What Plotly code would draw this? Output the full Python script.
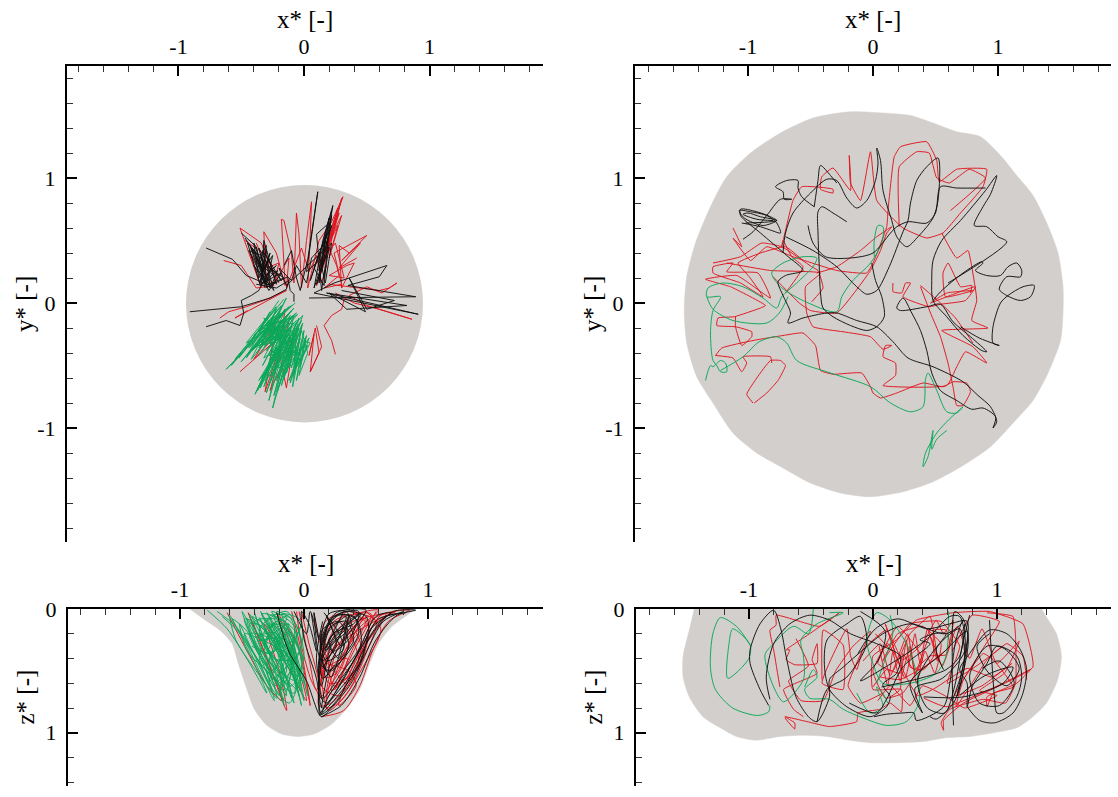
import plotly.graph_objects as go

FILL = "#d2cfcc"
RED = "#e0141e"
BLACK = "#111111"
GREEN = "#0aa858"

# ---- gray regions ----
P1_CIRCLE = (-0.94, -0.955, 0.948, 0.945)
P2_OUTLINE = [(-0.18,1.53),(0.08,1.52),(0.30,1.50),(0.48,1.44),(0.67,1.37),(0.86,1.33),(1.02,1.18),(1.15,1.02),(1.28,0.86),(1.39,0.64),(1.48,0.40),(1.52,0.13),(1.52,-0.08),(1.50,-0.30),(1.40,-0.56),(1.28,-0.78),(1.12,-0.96),(0.94,-1.15),(0.72,-1.30),(0.48,-1.43),(0.24,-1.51),(-0.02,-1.55),(-0.26,-1.52),(-0.50,-1.44),(-0.72,-1.32),(-0.93,-1.20),(-1.12,-1.04),(-1.28,-0.80),(-1.41,-0.59),(-1.49,-0.32),(-1.51,-0.06),(-1.49,0.21),(-1.42,0.48),(-1.30,0.77),(-1.17,1.01),(-0.98,1.20),(-0.74,1.36),(-0.48,1.48),(-0.18,1.53)]
P3_OUTLINE = [(-0.92,0.0),(-0.81,0.08),(-0.68,0.17),(-0.58,0.28),(-0.53,0.44),(-0.46,0.65),(-0.40,0.81),(-0.30,0.94),(-0.18,1.01),(-0.05,1.03),(0.08,1.01),(0.21,0.94),(0.34,0.81),(0.45,0.65),(0.53,0.44),(0.60,0.28),(0.71,0.14),(0.83,0.05),(0.90,0.0)]
P4_OUTLINE = [(-1.44,0),(-1.48,0.17),(-1.53,0.38),(-1.53,0.55),(-1.48,0.71),(-1.37,0.87),(-1.23,0.96),(-1.10,1.03),(-0.94,1.06),(-0.75,1.03),(-0.56,1.02),(-0.37,1.03),(-0.19,1.06),(-0.02,1.08),(0.19,1.08),(0.41,1.07),(0.59,1.04),(0.78,1.03),(0.97,1.00),(1.16,0.96),(1.29,0.87),(1.40,0.76),(1.49,0.57),(1.52,0.38),(1.48,0.20),(1.39,0.05),(1.36,0)]

# ---- panel 1: x*, y* (small droplet) ----
P1_RED = [
 [(-0.64,0.34),(-0.50,0.30),(-0.38,0.12),(-0.24,0.14),(-0.43,0.40),(-0.34,0.12),(-0.51,0.60),(-0.34,0.48),(-0.28,0.32),(-0.30,0.12),(-0.32,0.57),(-0.22,0.40),(-0.15,0.14),(-0.18,0.67),(-0.16,0.66),(-0.10,0.40),(-0.08,0.16),(-0.06,0.72),(-0.04,0.55),(-0.02,0.12),(0.02,0.50),(0.06,0.81),(0.05,0.55),(0.03,0.12),(0.12,0.50),(0.22,0.65),(0.31,0.85),(0.26,0.70),(0.10,0.14),(0.20,0.42),(0.29,0.80),(0.22,0.55),(0.12,0.20),(0.28,0.72),(0.18,0.48),(0.26,0.30),(0.28,0.22),(0.16,0.12),(0.30,0.15),(0.24,0.40),(0.50,0.54),(0.30,0.34),(0.45,0.48),(0.28,0.28),(0.42,0.36)],
 [(0.20,0.15),(0.42,0.12),(0.60,0.10),(0.68,0.12),(0.74,0.16),(0.62,0.08),(0.50,0.13),(0.36,0.06),(0.50,-0.02),(0.86,-0.13),(0.60,-0.05),(0.40,0.00),(0.25,0.08)],
 [(-0.67,-0.12),(-0.60,-0.07),(-0.46,-0.03),(-0.32,0.02),(-0.14,0.10),(-0.55,-0.12),(-0.45,-0.06)],
 [(0.10,-0.18),(0.14,-0.35),(0.05,-0.55),(0.12,-0.40),(0.09,-0.20),(0.04,-0.42),(0.08,-0.25),(0.05,-0.55)],
 [(0.25,-0.41),(0.22,-0.30),(0.16,-0.18),(0.22,-0.10),(0.30,-0.05),(0.32,0.03)],
 [(-0.51,-0.55),(-0.25,-0.32),(-0.31,-0.71),(-0.20,-0.38),(-0.14,-0.68),(-0.08,-0.30),(-0.27,-0.70),(-0.12,-0.15),(-0.40,-0.45),(-0.15,-0.05),(-0.22,-0.50),(-0.05,-0.20)],
 [(-0.38,0.48),(-0.30,0.28),(-0.20,0.32),(-0.24,0.15),(-0.12,0.36),(-0.14,0.12),(-0.02,0.44),(0.04,0.25),(0.10,0.38),(0.14,0.16),(0.18,0.30)],
 [(0.30,0.84),(0.24,0.62),(0.14,0.30),(0.27,0.76),(0.16,0.42),(0.30,0.70),(0.20,0.36),(0.27,0.62),(0.12,0.32),(0.25,0.48),(0.32,0.20),(0.20,0.22),(0.34,0.30),(0.40,0.32),(0.30,0.12),(0.28,0.46),(0.36,0.40)],
 [(-0.47,0.50),(-0.30,0.38),(-0.20,0.16)],
]
P1_BLACK = [
 [(-0.91,-0.07),(-0.72,-0.05),(-0.50,-0.03),(-0.27,0.04),(-0.14,0.11),(-0.12,0.18),(-0.22,0.12),(-0.38,0.15)],
 [(-0.78,-0.19),(-0.62,-0.14),(-0.51,-0.18),(-0.48,-0.08),(-0.50,0.02),(-0.42,0.06),(-0.36,0.10),(-0.33,0.16)],
 [(-0.78,0.44),(-0.57,0.35),(-0.46,0.22),(-0.27,0.14),(-0.13,0.21),(-0.11,0.10),(-0.08,0.07),(-0.08,0.01)],
 [(-0.50,0.56),(-0.38,0.45),(-0.32,0.20),(-0.38,0.40),(-0.45,0.48),(-0.35,0.15),(-0.30,0.43),(-0.27,0.12),(-0.40,0.48),(-0.36,0.20),(-0.28,0.35),(-0.22,0.15),(-0.32,0.50),(-0.34,0.14),(-0.26,0.28),(-0.18,0.18),(-0.33,0.42),(-0.24,0.10),(-0.40,0.30),(-0.30,0.14),(-0.16,0.20),(-0.30,0.30),(-0.43,0.46),(-0.37,0.28),(-0.33,0.36),(-0.29,0.18),(-0.25,0.38),(-0.34,0.24),(-0.31,0.12)],
 [(-0.16,0.30),(-0.10,0.42),(-0.06,0.20),(-0.03,0.10),(0.03,0.35),(0.11,0.89),(0.07,0.60),(0.02,0.25),(0.12,0.34),(0.20,0.60),(0.23,0.78),(0.15,0.50),(0.08,0.12),(0.16,0.36),(0.22,0.70),(0.18,0.40),(0.10,0.15),(0.20,0.45),(0.16,0.20),(0.12,0.40),(0.05,0.18),(0.21,0.65),(0.10,0.55),(0.14,0.10),(0.17,0.30)],
 [(0.04,0.04),(0.89,0.05),(0.35,0.14),(0.60,0.21),(0.66,0.30),(0.24,0.16),(0.08,0.08),(0.91,-0.09),(0.18,0.08),(0.82,-0.02),(0.34,-0.05),(0.20,0.08),(0.49,-0.07),(0.36,0.20),(0.50,-0.05),(0.72,0.02),(0.30,0.10)],
 [(-0.47,0.52),(-0.39,0.40),(-0.33,0.22),(-0.30,0.46),(-0.36,0.34),(-0.29,0.12),(-0.42,0.44),(-0.34,0.30),(-0.24,0.22),(-0.36,0.44),(-0.31,0.26),(-0.27,0.40),(-0.35,0.18),(-0.22,0.30),(-0.30,0.22),(-0.38,0.36),(-0.26,0.14),(-0.21,0.26),(-0.33,0.16),(-0.18,0.24),(-0.28,0.10),(-0.44,0.42),(-0.34,0.38),(-0.30,0.16)],
 [(0.22,0.74),(0.17,0.52),(0.12,0.16),(0.20,0.68),(0.14,0.44),(0.22,0.62),(0.12,0.26),(0.18,0.56),(0.08,0.28),(0.16,0.14),(0.19,0.50),(0.06,0.36),(0.02,0.16),(-0.06,0.30),(-0.10,0.18),(-0.20,0.28),(-0.14,0.14),(0.22,0.48),(0.17,0.16)],
]
P1_GREEN = [
 [(-0.07,0.0),(-0.32,-0.22),(-0.62,-0.53),(-0.40,-0.30),(-0.18,-0.08),(-0.45,-0.42),(-0.25,-0.15),(-0.50,-0.47),(-0.15,-0.05),(-0.36,-0.36),(-0.10,-0.06),(-0.42,-0.45),(-0.22,-0.05),(-0.34,-0.33),(-0.14,0.04),(-0.28,-0.25),(-0.05,-0.09),(-0.30,-0.38),(-0.12,-0.15),(-0.39,-0.73),(-0.22,-0.35),(-0.32,-0.67),(-0.12,-0.20),(-0.37,-0.70),(-0.08,-0.10),(-0.25,-0.84),(-0.15,-0.50),(-0.05,-0.18),(-0.20,-0.60),(-0.28,-0.48),(-0.10,-0.22),(-0.34,-0.60),(-0.02,-0.14),(-0.16,-0.45),(-0.24,-0.55),(-0.06,-0.25),(-0.09,-0.67),(-0.02,-0.30),(0.05,-0.32),(-0.05,-0.50),(-0.12,-0.62),(0.02,-0.26),(-0.04,-0.58),(0.03,-0.40),(-0.02,-0.22),(-0.10,-0.52),(-0.14,-0.32),(-0.30,-0.12),(-0.46,-0.32),(-0.18,-0.14),(-0.38,-0.40),(-0.12,-0.08),(-0.24,-0.32),(-0.06,-0.14),(-0.20,-0.30),(-0.30,-0.28),(-0.12,-0.26),(-0.22,-0.20),(-0.08,-0.34),(-0.19,-0.44),(-0.03,-0.24),(-0.26,-0.40),(-0.15,-0.20),(-0.33,-0.30),(-0.18,-0.03),(-0.24,-0.22)],
 [(-0.20,0.02),(-0.42,-0.30),(-0.55,-0.45),(-0.36,-0.22),(-0.22,-0.03),(-0.48,-0.38),(-0.28,-0.12),(-0.52,-0.44),(-0.18,-0.02),(-0.38,-0.28),(-0.12,-0.03),(-0.44,-0.36),(-0.24,-0.12),(-0.40,-0.26),(-0.10,-0.02),(-0.34,-0.28),(-0.06,-0.08),(-0.30,-0.30),(-0.14,-0.10),(-0.36,-0.42),(-0.20,-0.18),(-0.30,-0.56),(-0.12,-0.24),(-0.34,-0.64),(-0.16,-0.30),(-0.30,-0.72),(-0.20,-0.40),(-0.36,-0.62),(-0.10,-0.18),(-0.28,-0.66),(-0.06,-0.16),(-0.24,-0.74),(-0.16,-0.42),(-0.22,-0.62),(-0.04,-0.20),(-0.18,-0.66),(-0.08,-0.24),(-0.14,-0.56),(-0.02,-0.18),(-0.08,-0.58),(0.00,-0.22),(-0.06,-0.62),(0.01,-0.28),(-0.03,-0.50),(0.04,-0.28),(-0.08,-0.46),(-0.01,-0.16),(-0.12,-0.46),(-0.04,-0.12),(-0.16,-0.36),(-0.26,-0.16),(-0.10,-0.12),(-0.28,-0.36),(-0.14,-0.22),(-0.34,-0.20),(-0.20,-0.08),(-0.30,-0.18),(-0.14,-0.14),(-0.26,-0.26),(-0.12,-0.34),(-0.22,-0.24),(-0.06,-0.30),(-0.18,-0.38),(-0.04,-0.40),(-0.24,-0.46),(-0.10,-0.28),(-0.32,-0.44),(-0.18,-0.16),(-0.40,-0.36),(-0.24,-0.28),(-0.32,-0.12),(-0.16,-0.26),(-0.36,-0.32)],
 [(-0.16,0.03),(-0.38,-0.24),(-0.58,-0.50),(-0.43,-0.33),(-0.27,-0.07),(-0.46,-0.44),(-0.20,-0.10),(-0.41,-0.38),(-0.08,-0.04),(-0.32,-0.34),(-0.19,-0.24),(-0.33,-0.50),(-0.15,-0.16),(-0.35,-0.68),(-0.18,-0.34),(-0.28,-0.78),(-0.20,-0.50),(-0.31,-0.62),(-0.11,-0.30),(-0.26,-0.58),(-0.07,-0.20),(-0.21,-0.70),(-0.10,-0.38),(-0.16,-0.60),(-0.03,-0.28),(-0.11,-0.64),(-0.02,-0.36),(-0.07,-0.52),(0.03,-0.34),(-0.13,-0.42),(-0.01,-0.10),(-0.17,-0.28),(-0.29,-0.22),(-0.09,-0.16),(-0.23,-0.42),(-0.11,-0.10),(-0.27,-0.32),(-0.16,-0.08),(-0.35,-0.25),(-0.21,-0.14),(-0.37,-0.34),(-0.14,-0.30),(-0.28,-0.42),(-0.07,-0.38),(-0.20,-0.52),(-0.02,-0.44),(-0.16,-0.54),(0.00,-0.34)],
]

# ---- panel 2: x*, y* (large droplet) ----
P2_RED = [
 [(-0.96,-0.80),(-1.01,-0.73),(-0.93,-0.60),(-0.82,-0.46),(-0.74,-0.46),(-0.70,-0.50),(-0.76,-0.62),(-0.85,-0.72),(-0.95,-0.80)],
 [(-1.26,-0.42),(-1.21,-0.36),(-0.96,-0.30),(-0.72,-0.26),(-0.56,-0.24),(-0.46,-0.34),(-0.42,-0.54),(-0.32,-0.57),(-0.09,-0.56),(-0.02,-0.67),(0.00,-0.72),(0.06,-0.76),(0.19,-0.72),(0.40,-0.64),(0.56,-0.67),(0.64,-0.63),(0.75,-0.64),(0.78,-0.71),(0.72,-0.82),(0.67,-0.82),(0.64,-0.67),(0.60,-0.48),(0.54,-0.27),(0.46,-0.08),(0.38,0.13)],
 [(-1.26,-0.42),(-1.12,-0.44),(-1.05,-0.55),(-1.01,-0.48),(-1.04,-0.43),(-0.82,-0.43),(-0.81,-0.48)],
 [(-1.10,-0.11),(-1.10,-0.19),(-1.05,-0.34),(-0.97,-0.27),(-0.97,-0.23),(-1.10,-0.19),(-1.25,-0.18),(-1.24,-0.12),(-1.11,-0.11),(-0.90,-0.04),(-0.86,-0.02),(-1.14,0.13),(-1.34,0.19),(-1.09,0.22),(-0.82,0.04),(-0.92,0.24),(-1.17,0.25),(-1.12,0.32),(-1.28,0.29),(-1.28,0.24),(-1.06,0.16),(-0.88,0.05),(-0.99,0.21),(-1.08,0.32),(-0.90,0.40),(-0.70,0.45),(-0.56,0.34)],
 [(-1.12,0.60),(-1.05,0.45),(-1.12,0.52),(-0.98,0.34),(-0.85,0.45),(-0.64,0.37),(-0.29,0.26),(-0.05,0.24),(0.00,0.32),(0.11,0.61),(0.12,0.74),(0.17,1.17),(0.22,1.25),(0.43,1.29),(0.51,1.14),(0.53,0.97),(0.67,1.07),(0.91,1.07),(0.88,0.93),(0.70,0.72),(0.56,0.56),(0.43,0.52),(0.24,0.60),(0.03,0.82),(-0.02,1.21),(-0.10,0.82),(-0.18,0.96),(-0.19,1.18),(-0.18,0.90),(-0.32,1.08),(-0.41,1.01),(-0.42,0.91),(-0.32,0.88),(-0.32,0.91),(-0.57,0.93),(-0.64,0.82),(-0.73,0.45),(-0.72,0.50),(-0.65,0.37),(-0.56,0.29),(-0.70,0.08)],
 [(0.21,0.61),(0.21,1.09),(0.35,1.21),(0.45,1.20),(0.51,1.00),(0.61,0.96),(0.77,1.07),(0.90,1.00),(0.62,0.74)],
 [(0.55,0.56),(0.67,0.36),(0.76,0.42),(0.79,0.29),(0.83,0.02),(0.79,-0.14),(0.92,-0.20),(0.55,-0.22),(0.80,-0.35),(0.91,-0.48),(0.74,-0.39),(0.67,-0.51),(0.59,-0.66),(0.08,-0.66),(0.18,-0.58),(0.18,-0.48),(0.08,-0.43),(0.10,-0.34),(0.15,-0.34),(0.08,-0.37),(-0.02,-0.27),(-0.24,-0.23),(-0.48,-0.19),(-0.53,-0.08),(-0.54,0.13),(-0.42,0.24),(-0.82,0.26),(-1.17,0.32)],
 [(0.16,0.16),(0.16,0.09),(0.23,0.08),(0.26,0.16),(0.30,0.16),(0.24,0.05),(0.45,-0.03),(0.54,-0.01),(0.74,0.02),(0.82,0.13),(0.59,0.05),(0.46,0.00),(0.59,0.08),(0.80,0.10),(0.58,0.05),(0.56,0.24),(0.60,0.32),(0.70,0.13),(0.79,0.14),(0.78,0.08)],
 [(0.38,0.14),(0.54,0.00),(0.66,-0.12),(0.80,-0.32)],
 [(-0.80,0.21),(-0.72,0.13),(-0.59,0.0),(-0.50,-0.06),(-0.29,-0.08),(-0.02,0.26),(0.06,0.42),(0.11,0.56),(0.15,0.61),(0.03,0.53),(-0.10,0.42),(-0.29,0.29),(-0.45,0.24)],
 [(-0.49,0.01),(-0.40,0.12),(-0.44,0.26),(-0.49,0.29),(-0.73,0.45),(-0.89,0.48),(-1.06,0.37),(-1.28,0.32)],
]
P2_BLACK = [
 [(0.96,-1.00),(0.99,-0.95),(0.94,-0.83),(0.84,-0.74),(0.72,-0.63),(0.48,-0.51),(0.28,-0.44),(0.16,-0.31),(0.03,-0.19),(-0.13,-0.14),(-0.29,-0.08),(-0.37,-0.08),(-0.56,-0.12),(-0.68,-0.16),(-0.66,-0.08),(-0.72,0.06),(-0.76,0.17),(-0.70,0.22),(-0.56,0.26),(-0.69,0.38),(-0.90,0.56),(-1.06,0.70),(-1.06,0.75),(-0.93,0.73),(-0.82,0.69),(-0.77,0.66),(-1.02,0.64)],
 [(0.96,-1.00),(0.98,-0.91),(0.88,-0.84),(0.79,-0.85),(0.67,-0.78),(0.54,-0.70),(0.47,-0.56),(0.43,-0.38),(0.38,-0.22),(0.31,-0.08),(0.24,0.04),(0.19,-0.04),(0.22,-0.06),(0.43,-0.03),(0.54,-0.01),(0.64,-0.15),(0.78,-0.27),(0.91,-0.39),(0.87,-0.38),(0.72,-0.26),(0.59,-0.11),(0.48,0.02),(0.47,0.18),(0.48,0.34),(0.55,0.50),(0.70,0.66),(0.90,0.90),(0.99,1.02),(0.94,0.87),(0.88,0.77),(0.81,0.62),(0.91,0.61),(1.00,0.53),(1.07,0.49),(0.60,0.16)],
 [(1.01,-0.34),(0.96,-0.32),(0.96,-0.19),(1.02,0.00),(1.08,0.06),(1.20,0.13),(1.29,0.14),(1.26,0.05),(1.18,0.02),(1.07,0.06),(1.01,0.11),(1.07,0.21),(1.18,0.21),(1.19,0.26),(1.15,0.32),(1.08,0.29),(1.02,0.22),(0.91,0.22),(0.82,0.26),(0.88,0.32),(0.87,0.33),(0.72,0.24),(0.54,0.09),(0.48,0.02)],
 [(1.01,-0.34),(0.85,-0.28),(0.70,-0.19)],
 [(-0.47,0.77),(-0.57,0.85),(-0.60,0.92),(-0.60,0.98),(-0.69,0.98),(-0.78,0.93),(-0.72,0.89),(-0.71,0.83),(-0.65,0.83),(-0.74,0.83),(-0.85,0.70),(-0.96,0.57),(-1.04,0.51)],
 [(-1.05,0.64),(-0.90,0.61),(-0.81,0.58),(-0.74,0.56),(-0.77,0.64),(-0.85,0.70),(-0.98,0.73),(-1.07,0.74),(-1.03,0.68),(-0.88,0.62),(-0.77,0.66),(-0.90,0.69),(-1.00,0.72),(-1.04,0.71),(-0.93,0.67),(-0.80,0.66)],
 [(-0.72,0.40),(-0.70,0.56),(-0.64,0.72),(-0.50,0.88),(-0.37,0.99),(-0.29,0.98),(-0.21,0.84),(-0.13,0.76),(-0.05,0.82),(0.02,0.98),(0.04,1.12),(0.03,1.24),(0.06,1.14),(0.08,0.90),(0.15,0.66),(0.19,0.53),(0.27,0.45),(0.36,0.53),(0.48,0.68),(0.52,0.82),(0.52,1.16),(0.43,1.09),(0.35,0.98),(0.30,0.80),(0.28,0.66),(0.24,0.57),(0.13,0.29),(0.03,0.10),(-0.05,0.07),(-0.13,0.13),(-0.29,0.29),(-0.48,0.42),(-0.70,0.53)],
 [(-0.52,0.62),(-0.48,0.48),(-0.38,0.37),(-0.18,0.36),(0.00,0.40),(0.14,0.56),(0.19,0.61),(0.28,0.65),(0.43,0.64),(0.50,0.72),(0.54,0.93),(0.67,0.92),(0.90,0.92)],
 [(-0.47,0.77),(-0.44,0.98),(-0.42,1.10),(-0.34,1.02),(-0.29,0.96)],
 [(-0.21,0.65),(-0.32,0.72),(-0.41,0.77),(-0.44,0.73),(-0.44,0.56),(-0.43,0.29),(-0.42,0.08),(-0.40,-0.04),(-0.32,-0.11),(-0.18,-0.18),(-0.05,-0.22),(0.03,-0.19),(0.09,-0.11),(0.07,0.05),(0.02,0.18),(-0.01,0.32)],
]
P2_GREEN = [
 [(-1.34,-0.62),(-1.30,-0.50),(-1.28,-0.51),(-1.22,-0.46),(-1.18,-0.48),(-1.17,-0.55),(-1.22,-0.55),(-1.25,-0.50),(-1.28,-0.46),(-1.30,-0.24),(-1.28,-0.06),(-1.22,0.05),(-1.33,0.05),(-1.32,0.12),(-1.20,0.16),(-1.04,0.13),(-0.88,0.04),(-0.77,-0.04),(-0.73,0.05),(-0.61,0.16),(-0.48,0.29),(-0.45,0.36),(-0.56,0.37),(-0.72,0.32),(-0.81,0.24),(-0.74,0.13),(-0.56,0.02),(-0.29,-0.07),(-0.25,0.05),(-0.17,0.17),(-0.02,0.32),(0.07,0.48),(0.08,0.61),(0.04,0.62),(0.01,0.50),(0.01,0.37)],
 [(-1.33,0.05),(-1.28,-0.05),(-1.12,-0.14),(-0.85,-0.16),(-0.75,-0.08),(-0.68,0.05)],
 [(-1.22,-0.54),(-1.04,-0.43),(-0.91,-0.31),(-0.77,-0.27),(-0.69,-0.32),(-0.61,-0.46),(-0.34,-0.56),(-0.02,-0.67),(0.14,-0.80),(0.30,-0.87),(0.40,-0.83),(0.42,-0.61),(0.44,-0.56),(0.51,-0.70),(0.59,-0.87),(0.67,-0.88),(0.72,-0.83),(0.61,-0.93),(0.51,-1.04),(0.42,-1.20),(0.40,-1.31),(0.44,-1.23),(0.48,-1.02),(0.47,-1.17),(0.51,-1.09),(0.59,-1.02)],
]

# ---- panel 3: x*, z* (small droplet) ----
P3_RED = [
 [(-0.62,0.03),(-0.48,0.30),(-0.30,0.62),(-0.18,0.74),(-0.30,0.40),(-0.45,0.03),(-0.32,0.35),(-0.14,0.82),(-0.20,0.50),(-0.32,0.12),(-0.14,0.45),(0.02,0.74),(-0.10,0.30),(-0.22,0.03),(-0.05,0.30),(0.05,0.78),(-0.02,0.35),(-0.10,0.02)],
 [(0.14,0.87),(0.32,0.82),(0.45,0.62),(0.56,0.32),(0.68,0.10),(0.85,0.01),(0.62,0.05),(0.50,0.25),(0.38,0.58),(0.22,0.76),(0.12,0.78),(0.18,0.48),(0.35,0.40),(0.25,0.65),(0.38,0.35),(0.50,0.08),(0.36,0.12),(0.22,0.35),(0.14,0.62),(0.28,0.70),(0.44,0.42),(0.30,0.10),(0.18,0.18),(0.16,0.55),(0.26,0.52),(0.42,0.18),(0.60,0.01),(0.40,0.05),(0.24,0.22),(0.10,0.65),(0.04,0.40),(-0.04,0.02)],
 [(0.08,0.03),(0.14,0.30),(0.34,0.60),(0.46,0.30),(0.30,0.04),(0.16,0.12),(0.20,0.60),(0.42,0.50),(0.52,0.14),(0.35,0.02),(0.18,0.30),(0.12,0.72),(0.30,0.48),(0.44,0.10),(0.70,0.03)],
 [(0.40,0.02),(0.58,0.10),(0.50,0.36),(0.36,0.66),(0.20,0.82),(0.14,0.50),(0.22,0.12),(0.32,0.06),(0.54,0.04),(0.42,0.30),(0.28,0.58),(0.18,0.72),(0.28,0.30),(0.46,0.16),(0.74,0.02),(0.55,0.14),(0.44,0.46),(0.24,0.62),(0.20,0.40),(0.34,0.22),(0.52,0.05)],
 [(-0.02,0.02),(0.04,0.28),(0.10,0.50),(0.14,0.72),(0.06,0.58),(-0.02,0.30),(-0.06,0.02)],
 [(0.50,0.02),(0.62,0.16),(0.48,0.46),(0.30,0.74),(0.18,0.80),(0.24,0.50),(0.40,0.24),(0.56,0.08),(0.66,0.04),(0.46,0.34),(0.34,0.56),(0.22,0.66),(0.32,0.36),(0.48,0.06),(0.30,0.26),(0.16,0.42),(0.36,0.50),(0.42,0.62),(0.28,0.78),(0.40,0.44),(0.58,0.02)],
]
P3_BLACK = [
 [(0.14,0.87),(0.30,0.78),(0.45,0.55),(0.58,0.25),(0.75,0.05),(0.90,0.01),(0.72,0.02),(0.55,0.20),(0.42,0.45),(0.28,0.72),(0.14,0.85),(0.12,0.60),(0.14,0.30),(0.22,0.08),(0.35,0.02),(0.50,0.06),(0.52,0.18),(0.40,0.42),(0.20,0.70),(0.13,0.86),(0.12,0.50),(0.16,0.20),(0.28,0.05),(0.42,0.08),(0.46,0.28),(0.30,0.52),(0.15,0.72),(0.12,0.40),(0.22,0.14),(0.34,0.10),(0.40,0.25),(0.25,0.45),(0.15,0.56),(0.14,0.24),(0.26,0.03),(0.50,0.01),(0.36,0.20),(0.22,0.42),(0.14,0.80)],
 [(-0.22,0.03),(-0.12,0.35),(0.02,0.58),(0.14,0.87),(0.22,0.80),(0.38,0.60),(0.50,0.35),(0.64,0.10),(0.80,0.02)],
 [(-0.08,0.02),(0.02,0.20),(0.05,0.02),(0.12,0.25),(0.08,0.03),(0.14,0.42),(0.26,0.30),(0.18,0.05),(0.30,0.30),(0.36,0.05),(0.22,0.55),(0.15,0.40),(0.35,0.16),(0.28,0.40),(0.20,0.25),(0.44,0.04),(0.26,0.22),(0.17,0.34),(0.32,0.02)],
 [(0.13,0.86),(0.24,0.74),(0.42,0.50),(0.52,0.24),(0.66,0.06),(0.82,0.03),(0.60,0.08),(0.48,0.28),(0.34,0.52),(0.18,0.76),(0.12,0.68),(0.15,0.36),(0.20,0.12),(0.30,0.03),(0.44,0.02),(0.38,0.22),(0.24,0.34),(0.16,0.26),(0.24,0.06),(0.40,0.06),(0.44,0.20),(0.30,0.42),(0.18,0.50),(0.13,0.30),(0.20,0.04),(0.34,0.02),(0.38,0.14),(0.22,0.30),(0.14,0.62),(0.10,0.40),(0.15,0.10)],
 [(0.16,0.03),(0.26,0.16),(0.32,0.32),(0.18,0.42),(0.14,0.18),(0.28,0.10),(0.36,0.30),(0.22,0.50),(0.13,0.44),(0.24,0.20),(0.40,0.12),(0.46,0.04),(0.30,0.16),(0.16,0.32),(0.20,0.18),(0.34,0.06),(0.26,0.28),(0.15,0.48)],
 [(0.13,0.84),(0.28,0.66),(0.46,0.42),(0.54,0.16),(0.70,0.03),(0.58,0.06),(0.44,0.34),(0.30,0.60),(0.15,0.80),(0.10,0.56),(0.00,0.24),(-0.02,0.02),(0.04,0.12),(0.10,0.34),(0.06,0.04)],
]
P3_GREEN = [
 [(-0.78,0.01),(-0.62,0.16),(-0.45,0.42),(-0.30,0.68),(-0.42,0.40),(-0.60,0.05),(-0.55,0.25),(-0.35,0.55),(-0.22,0.72),(-0.35,0.30),(-0.50,0.02),(-0.40,0.28),(-0.20,0.62),(-0.16,0.78),(-0.25,0.45),(-0.40,0.03),(-0.30,0.30),(-0.12,0.60),(-0.10,0.72),(-0.22,0.30),(-0.35,0.02),(-0.25,0.20),(-0.08,0.55),(-0.02,0.78),(-0.15,0.32),(-0.30,0.03),(-0.18,0.22),(-0.02,0.52),(0.03,0.70),(-0.10,0.25),(-0.22,0.02),(-0.08,0.10),(-0.02,0.30),(-0.15,0.48),(-0.28,0.58),(-0.18,0.35),(-0.38,0.12),(-0.48,0.08),(-0.32,0.42),(-0.16,0.66),(-0.26,0.25),(-0.44,0.20),(-0.24,0.55),(-0.08,0.68),(-0.14,0.22),(-0.28,0.12),(-0.12,0.40),(-0.05,0.62),(-0.20,0.14),(-0.36,0.38),(-0.18,0.74),(-0.10,0.42),(-0.24,0.06),(-0.06,0.20),(-0.20,0.42),(-0.34,0.22),(-0.14,0.06),(-0.30,0.50),(-0.12,0.76),(-0.02,0.44),(-0.16,0.10),(-0.40,0.10),(-0.22,0.46),(-0.04,0.66),(-0.12,0.18),(-0.26,0.36),(-0.42,0.30)],
 [(-0.70,0.02),(-0.55,0.14),(-0.38,0.40),(-0.26,0.66),(-0.36,0.46),(-0.52,0.12),(-0.46,0.34),(-0.28,0.52),(-0.14,0.70),(-0.28,0.34),(-0.44,0.04),(-0.34,0.34),(-0.16,0.58),(-0.08,0.76),(-0.20,0.38),(-0.36,0.07),(-0.26,0.28),(-0.10,0.52),(-0.04,0.70),(-0.18,0.28),(-0.30,0.08),(-0.20,0.30),(-0.06,0.48),(-0.00,0.74),(-0.12,0.36),(-0.26,0.12),(-0.14,0.16),(0.00,0.42),(-0.06,0.26),(-0.18,0.04),(-0.04,0.08),(-0.01,0.24),(-0.12,0.52),(-0.24,0.62),(-0.16,0.42),(-0.34,0.14),(-0.44,0.12),(-0.30,0.46),(-0.20,0.70),(-0.22,0.20),(-0.40,0.24),(-0.20,0.50),(-0.06,0.58),(-0.16,0.12),(-0.32,0.18),(-0.10,0.34),(-0.02,0.58),(-0.22,0.10),(-0.32,0.32),(-0.14,0.60),(-0.08,0.30),(-0.26,0.02),(-0.08,0.14),(-0.18,0.52),(-0.30,0.26),(-0.12,0.12),(-0.28,0.44),(-0.10,0.62),(-0.00,0.36),(-0.14,0.02),(-0.36,0.16),(-0.24,0.40),(-0.06,0.40),(-0.16,0.24),(-0.38,0.26)],
 [(-0.66,0.06),(-0.50,0.22),(-0.36,0.50),(-0.24,0.74),(-0.30,0.52),(-0.46,0.18),(-0.58,0.08),(-0.42,0.34),(-0.22,0.58),(-0.14,0.50),(-0.26,0.18),(-0.42,0.06),(-0.28,0.22),(-0.12,0.48),(-0.02,0.66),(-0.08,0.38),(-0.20,0.08),(-0.34,0.04),(-0.22,0.24),(-0.06,0.50),(-0.00,0.60),(-0.04,0.32),(-0.12,0.06),(-0.28,0.06),(-0.16,0.30),(-0.26,0.50),(-0.38,0.34),(-0.46,0.08),(-0.32,0.28),(-0.16,0.52),(-0.20,0.66),(-0.10,0.46),(-0.18,0.18),(-0.30,0.36),(-0.08,0.24),(-0.02,0.12),(-0.14,0.38),(-0.24,0.30),(-0.36,0.24),(-0.48,0.20),(-0.34,0.46)],
]

# ---- panel 4: x*, z* (large droplet) ----
P4_RED = [
 [(-0.71,0.88),(-0.63,0.97),(-0.63,0.92),(-0.71,0.87),(-0.53,0.91),(-0.35,0.95),(-0.13,0.91),(-0.12,0.84),(0.06,0.81),(0.14,0.76),(0.23,0.83),(0.23,0.65),(0.00,0.65),(0.00,0.38),(0.19,0.25),(0.35,0.09),(0.65,0.03),(0.94,0.02),(1.21,0.12),(1.29,0.47),(1.00,0.63),(0.73,0.76),(0.57,0.90),(0.57,0.98),(0.55,0.92),(0.62,0.81),(0.89,0.73),(1.07,0.76),(1.15,0.60),(1.15,0.22),(1.13,0.06),(0.92,0.03)],
 [(-0.75,0.63),(-0.80,0.33),(-0.83,0.17),(-0.78,0.13),(-0.78,0.05),(-0.43,0.14),(-0.27,0.03),(-0.51,0.20),(-0.70,0.33),(-0.67,0.33),(-0.70,0.41),(-0.63,0.45),(-0.45,0.44),(-0.45,0.28),(-0.49,0.41),(-0.45,0.52),(-0.72,0.65),(-0.64,0.81),(-0.56,0.87)],
 [(-0.41,0.57),(-0.40,0.17),(-0.24,0.29),(-0.24,0.65),(-0.41,0.60),(-0.21,0.16),(-0.18,0.38),(-0.13,0.49),(-0.08,0.33),(0.11,0.17),(0.24,0.41),(0.40,0.28),(0.51,0.09),(0.57,0.20),(0.65,0.09),(0.59,0.37),(0.46,0.38),(0.33,0.49),(0.24,0.36),(0.22,0.65),(0.14,0.71)],
 [(0.41,0.72),(0.59,0.79),(1.05,0.60),(1.27,0.49),(1.16,0.60),(0.92,0.71),(0.92,0.79),(0.97,0.68),(1.13,0.63),(0.97,0.41),(0.89,0.36),(0.73,0.57),(0.67,0.79),(0.78,0.63),(0.92,0.41),(1.08,0.28),(1.21,0.38),(1.24,0.57)],
 [(0.00,0.63),(0.11,0.49),(0.22,0.52),(0.27,0.25),(0.30,0.47),(0.41,0.49),(0.49,0.38),(0.49,0.17),(0.59,0.17),(0.62,0.30),(0.41,0.47),(0.22,0.57),(0.06,0.55)],
 [(0.05,0.30),(0.12,0.62),(0.16,0.35),(0.22,0.58),(0.30,0.30),(0.35,0.60),(0.42,0.34),(0.50,0.52),(0.55,0.28),(0.40,0.14),(0.20,0.20),(0.08,0.42),(0.30,0.12),(0.55,0.10),(0.70,0.30),(0.60,0.60),(0.85,0.45),(1.05,0.30)],
 [(0.02,0.20),(0.18,0.36),(0.10,0.12),(0.26,0.56),(0.34,0.20),(0.38,0.44),(0.44,0.16),(0.52,0.42),(0.46,0.06),(0.30,0.20),(0.16,0.50),(0.04,0.44),(0.20,0.14),(0.40,0.40),(0.24,0.68),(0.10,0.72),(0.00,0.50),(0.12,0.28),(0.36,0.70),(0.50,0.64),(0.76,0.48),(0.96,0.55),(1.12,0.44),(0.88,0.62),(0.66,0.70),(0.90,0.30),(1.02,0.10),(0.80,0.05),(0.64,0.34)],
 [(-0.62,0.24),(-0.52,0.46),(-0.68,0.58),(-0.58,0.74),(-0.40,0.74),(-0.30,0.50),(-0.16,0.30),(-0.02,0.18),(-0.20,0.62),(-0.10,0.76),(0.08,0.68)],
 [(-0.08,0.42),(0.06,0.28),(0.14,0.54),(0.28,0.20),(0.34,0.52),(0.46,0.22),(0.56,0.46),(0.68,0.14),(0.78,0.40),(0.88,0.16),(1.00,0.44),(1.18,0.26),(1.06,0.52),(0.86,0.66),(1.00,0.70),(0.74,0.80),(0.58,0.70),(0.40,0.62),(0.30,0.78),(0.14,0.62),(0.04,0.74)],
]
P4_BLACK = [
 [(-0.84,0.78),(-0.91,0.65),(-0.99,0.44),(-0.99,0.33),(-0.91,0.12),(-0.80,0.01),(-0.74,0.17),(-0.70,0.38),(-0.62,0.71),(-0.51,0.88),(-0.45,0.91),(-0.35,0.71),(-0.35,0.57),(-0.24,0.47),(-0.08,0.33),(0.08,0.20),(0.30,0.12),(0.59,0.20),(0.73,0.09),(0.66,0.02),(0.64,0.47),(0.65,0.94)],
 [(-0.83,0.73),(-0.86,0.55),(-0.80,0.28),(-0.67,0.12),(-0.51,0.05),(-0.35,0.09),(-0.18,0.20),(0.03,0.28),(0.22,0.38),(0.19,0.52),(0.08,0.61),(0.14,0.71),(0.11,0.79),(-0.02,0.87),(-0.21,0.79),(-0.35,0.65),(-0.39,0.47),(-0.37,0.25),(-0.21,0.12),(-0.10,0.06),(-0.05,0.28),(-0.21,0.55),(-0.37,0.65),(-0.45,0.91)],
 [(0.76,0.79),(0.86,0.90),(0.98,0.92),(1.13,0.84),(1.21,0.68),(1.24,0.49),(1.19,0.33),(1.08,0.20),(0.94,0.17),(0.78,0.36),(0.70,0.49),(0.76,0.60),(0.76,0.79),(0.80,0.63),(0.92,0.44),(1.00,0.30),(1.16,0.38),(1.20,0.55),(1.16,0.71),(1.05,0.84),(1.00,0.84),(0.98,0.71),(0.94,0.09)],
 [(0.41,0.71),(0.73,0.71),(1.05,0.60),(1.13,0.47),(0.90,0.54),(0.70,0.70)],
 [(0.46,0.87),(0.51,0.89),(0.65,0.76),(0.70,0.63),(0.77,0.25),(0.73,0.09),(0.67,0.25),(0.62,0.60),(0.57,0.79),(0.35,0.90),(0.33,0.84),(0.24,0.84),(0.11,0.85),(0.01,0.87)],
 [(0.07,0.63),(0.38,0.56),(0.59,0.49),(0.70,0.38),(0.74,0.12)],
 [(-0.19,0.76),(0.03,0.84),(0.11,0.73),(0.24,0.47),(0.46,0.28),(0.38,0.25),(0.49,0.20),(0.59,0.20),(0.51,0.33),(0.57,0.49)],
 [(-0.10,0.02),(0.10,0.18),(0.04,0.42),(-0.10,0.58),(0.18,0.42),(0.44,0.24),(0.62,0.06),(0.70,0.06),(0.74,0.34),(0.56,0.56),(0.34,0.64),(0.40,0.84),(0.30,0.60),(0.56,0.36),(0.76,0.18),(0.72,0.50),(0.64,0.74)],
 [(0.94,0.20),(0.84,0.30),(0.92,0.50),(1.08,0.62),(1.18,0.48),(1.06,0.32),(0.92,0.30),(0.78,0.54),(0.86,0.76),(1.02,0.78),(1.14,0.60),(1.02,0.42),(0.88,0.48)],
 [(0.78,0.05),(0.72,0.30),(0.66,0.62),(0.58,0.84),(0.44,0.80),(0.36,0.58),(0.52,0.30),(0.70,0.16),(0.74,0.44),(0.68,0.70),(0.76,0.10),(0.62,0.12),(0.44,0.16),(0.20,0.08),(0.02,0.16),(-0.12,0.36)],
]
P4_GREEN = [
 [(-1.17,0.56),(-1.16,0.28),(-1.13,0.16),(-0.99,0.29),(-1.00,0.40),(-1.17,0.56)],
 [(-0.99,0.29),(-1.10,0.14),(-1.23,0.07),(-1.29,0.20),(-1.31,0.47),(-1.27,0.65),(-1.13,0.80),(-0.93,0.86),(-0.84,0.83),(-0.83,0.78)],
 [(-0.48,0.0),(-0.52,0.20),(-0.64,0.14),(-0.80,0.28),(-0.87,0.37),(-0.80,0.63),(-0.72,0.75),(-0.56,0.57),(-0.56,0.38),(-0.58,0.25),(-0.45,0.12),(-0.24,0.03),(-0.35,0.03)],
 [(-0.55,0.63),(-0.48,0.49),(-0.45,0.55),(-0.55,0.65),(-0.51,0.72),(-0.35,0.73),(-0.24,0.81),(-0.08,0.88),(0.11,0.94),(0.27,0.91),(0.37,0.76),(0.37,0.60),(0.28,0.30),(0.14,0.09),(0.03,0.03),(-0.05,0.25),(0.00,0.44),(0.08,0.60),(0.30,0.60),(0.51,0.52),(0.59,0.38),(0.61,0.02)],
 [(-0.13,0.68),(-0.02,0.84),(0.08,0.79),(0.03,0.63),(0.08,0.68),(0.12,0.76)],
 [(0.14,0.05),(0.16,0.20),(0.08,0.46),(0.03,0.60)],
]

TICK_X = [-1, 0, 1]
TICK_X_TEXT = ["-1", "0", "1"]
TICK_Y = [-1, 0, 1]
TICK_Y_TEXT = ["-1", "0", "1"]
TICK_Z = [0, 1]
TICK_Z_TEXT = ["0", "1"]
X_TITLE = "x* [-]"
Y_TITLE = "y* [-]"
Z_TITLE = "z* [-]"

W, H = 1118, 797
fig = go.Figure()

def xdom(a, b): return [a / W, b / W]
def ydom(t, b): return [1 - b / H, 1 - t / H]

FONT = "Liberation Serif"

def axis_common(tickvals, ticktext, standoff):
    return dict(
        showline=True, linecolor="black", linewidth=2, mirror=False, showgrid=False, zeroline=False,
        automargin=False,
        tickmode="array", tickvals=tickvals, ticktext=ticktext,
        ticks="inside", ticklen=10, tickwidth=2, tickcolor="black",
        tickfont=dict(family=FONT, size=22, color="black"), ticklabelstandoff=standoff,
        minor=dict(ticks="inside", ticklen=6, tickwidth=1, tickcolor="#333333", dtick=0.2, tick0=0, showgrid=False),
    )

PANELS = [
    ("x", "y", (67, 543), (66, 542), [-1.888, 1.904], [-1.912, 1.896], TICK_Y, TICK_Y_TEXT, Y_TITLE, 25),
    ("x2", "y2", (635, 1111), (66, 542), [-1.904, 1.904], [-1.912, 1.896], TICK_Y, TICK_Y_TEXT, Y_TITLE, 593),
    ("x3", "y3", (68, 543), (609, 786), [-1.903, 1.927], [1.43, 0], TICK_Z, TICK_Z_TEXT, Z_TITLE, 25),
    ("x4", "y4", (636, 1111), (609, 786), [-1.91, 1.92], [1.43, 0], TICK_Z, TICK_Z_TEXT, Z_TITLE, 593),
]
layout = {}
annotations = []
for xa, ya, xd, yd, xr, yr, tv, tt, ytitle, ytx in PANELS:
    sx = "xaxis" + xa[1:]
    sy = "yaxis" + ya[1:]
    layout[sx] = dict(axis_common(TICK_X, TICK_X_TEXT, 1), domain=xdom(*xd), range=xr, side="top", anchor=ya)
    layout[sy] = dict(axis_common(tv, tt, 5), domain=ydom(*yd), range=yr, side="left", anchor=xa)
    tfont = dict(family=FONT, size=25, color="black")
    annotations.append(dict(text=X_TITLE, x=(xd[0] + xd[1]) / 2 / W, y=1 - (yd[0] - 46) / H, xref="paper", yref="paper",
                            showarrow=False, xanchor="center", yanchor="middle", font=tfont))
    annotations.append(dict(text=ytitle, x=ytx / W, y=1 - (yd[0] + yd[1]) / 2 / H, xref="paper", yref="paper",
                            showarrow=False, xanchor="center", yanchor="middle", textangle=-90, font=tfont))
fig.update_layout(annotations=annotations, **layout)

def add_fill(pts, xa, ya):
    fig.add_trace(go.Scatter(x=[p[0] for p in pts], y=[p[1] for p in pts], mode="lines", fill="toself",
                             fillcolor=FILL, line=dict(color=FILL, width=0.5, shape="spline", smoothing=0.7),
                             hoverinfo="skip", showlegend=False, xaxis=xa, yaxis=ya))

def add_paths(paths, color, xa, ya, shape="linear", width=0.95, smoothing=0.8):
    for path in paths:
        fig.add_trace(go.Scatter(x=[p[0] for p in path], y=[p[1] for p in path], mode="lines",
                                 line=dict(color=color, width=width, shape=shape, smoothing=smoothing),
                                 hoverinfo="skip", showlegend=False, xaxis=xa, yaxis=ya))

x0, y0, x1, y1 = P1_CIRCLE
fig.add_shape(type="circle", xref="x", yref="y", x0=x0, y0=y0, x1=x1, y1=y1, fillcolor=FILL, line=dict(width=0), layer="below")
add_fill(P2_OUTLINE, "x2", "y2")
add_fill(P3_OUTLINE, "x3", "y3")
add_fill(P4_OUTLINE, "x4", "y4")

add_paths(P1_RED, RED, "x", "y")
add_paths(P1_BLACK, BLACK, "x", "y")
add_paths(P1_GREEN, GREEN, "x", "y")
add_paths(P2_RED, RED, "x2", "y2", "spline", smoothing=0.4)
add_paths(P2_GREEN, GREEN, "x2", "y2", "spline")
add_paths(P2_BLACK, BLACK, "x2", "y2", "spline")
add_paths(P3_RED, RED, "x3", "y3", "spline")
add_paths(P3_GREEN, GREEN, "x3", "y3", "spline")
add_paths(P3_BLACK, BLACK, "x3", "y3", "spline")
add_paths(P4_RED, RED, "x4", "y4", "spline", smoothing=0.4)
add_paths(P4_GREEN, GREEN, "x4", "y4", "spline")
add_paths(P4_BLACK, BLACK, "x4", "y4", "spline")

fig.update_layout(width=W, height=H, margin=dict(l=0, r=0, t=0, b=0), autosize=False,
                  paper_bgcolor="white", plot_bgcolor="white", showlegend=False)
fig.write_html("out.html", config={"displayModeBar": False},
               post_script="document.body.style.margin='0';document.documentElement.style.overflow='hidden';")
